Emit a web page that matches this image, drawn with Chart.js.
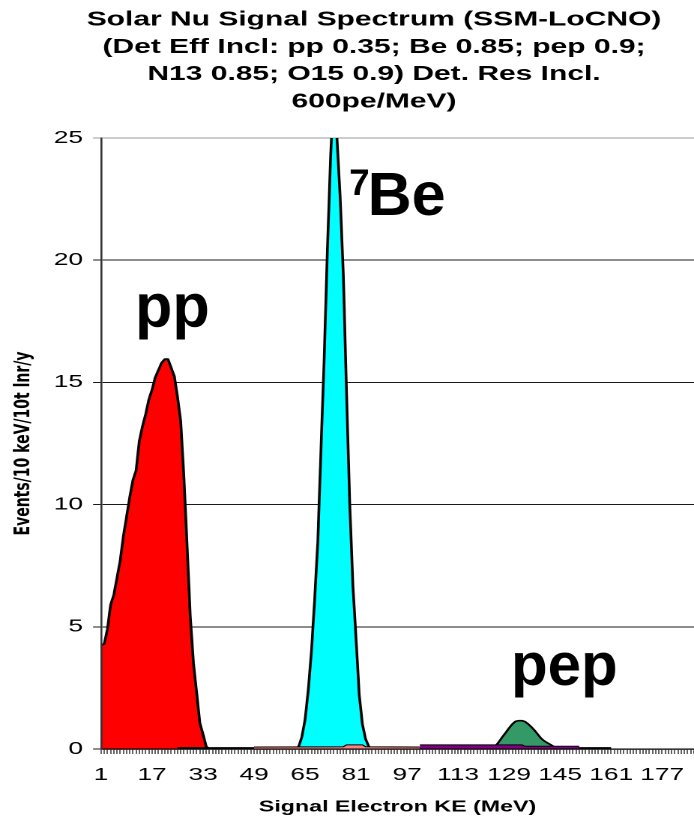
<!DOCTYPE html>
<html><head><meta charset="utf-8">
<script src="https://cdn.jsdelivr.net/npm/chart.js@4/dist/chart.umd.min.js"></script>
<style>html,body{margin:0;padding:0;background:#fff;overflow:hidden}</style>
</head><body>
<canvas id="c" width="463" height="820" style="width:694px;height:820px;display:block"></canvas>
<script>
// ---------- data ----------
const categories = Array.from({length: 187}, (_, i) => String(i + 1));
const xTickLabels = ['1','17','33','49','65','81','97','113','129','145','161','177'];
const yTickValues = [0, 5, 10, 15, 20, 25];

const titleLines = [
  'Solar Nu Signal Spectrum (SSM-LoCNO)',
  '(Det Eff Incl: pp 0.35; Be 0.85; pep 0.9;',
  'N13 0.85; O15 0.9) Det. Res Incl.',
  '600pe/MeV)'
];
const xTitle = 'Signal Electron KE (MeV)';
const yTitle = 'Events/10 keV/10t lnr/y';

// pp spectrum, starting at category 1
const ppFirst = 1;
const ppValues = [4.25, 4.3, 4.9, 5.9, 6.3, 7.0, 7.7, 8.7, 9.5, 10.3, 11.0, 11.4, 12.6, 13.2, 13.7,
  14.3, 14.7, 15.2, 15.5, 15.8, 15.95, 15.95, 15.6, 15.25, 14.4, 13.4, 11.1, 8.3, 5.4, 3.5,
  2.3, 1.06, 0.6, 0.1, 0];

// 7Be spectrum, starting at category 62
const beFirst = 62;
const beValues = [0, 0.1, 0.5, 1.2, 2.4, 4.0, 6.1, 8.5, 12.3, 16.0, 20.4, 24.2, 27.0, 25.0, 22.6,
  19.4, 14.6, 10.1, 6.7, 4.5, 2.2, 1.0, 0.4, 0.1, 0];

// pep spectrum, starting at category 123
const pepFirst = 123;
const pepValues = [0.05, 0.1, 0.16, 0.33, 0.51, 0.68, 0.86, 1.02, 1.13, 1.16, 1.16, 1.12, 1.02,
  0.9, 0.76, 0.6, 0.44, 0.33, 0.25, 0.18, 0.1, 0.05];

// low-level components: [category, value]
const darkLow = [[25, 0.05], [161, 0.05]];
const salmonLow = [[49, 0.08], [77, 0.09], [78, 0.17], [83, 0.17], [84, 0.09], [101, 0.08]];
const purpleLow = [[101, 0.17], [133, 0.17], [134, 0.11], [151, 0.11]];

// peak labels
const peakLabels = ['pp', '7', 'Be', 'pep'];

// ---------- drawing ----------
const S = 694 / 463;                 // horizontal stretch of the picture
const FAM = '"Liberation Sans", Arial, sans-serif';

function run(first, values) { return values.map((v, i) => ({x: categories[first - 1 + i], y: v})); }
function pairs(list) { return list.map(([c, v]) => ({x: String(c), y: v})); }

const labelPlacement = [
  {cat: 23.4, val: 17.27, size: 61, align: 'center'},
  {cat: 78.8, val: 22.67, size: 37, align: 'left'},
  {cat: 84.6, val: 21.85, size: 61, align: 'left'},
  {cat: 129.6, val: 2.62, size: 60, align: 'left'}
];

const textPlugin = {
  id: 'texts',
  afterDraw(chart) {
    const ctx = chart.ctx;
    ctx.save();
    ctx.fillStyle = '#000';
    ctx.textAlign = 'center';
    ctx.textBaseline = 'alphabetic';
    ctx.font = 'bold 20px ' + FAM;
    titleLines.forEach((t, i) => ctx.fillText(t, 374 / S, 25.5 + i * 27.3));
    const xs = chart.scales.x, ys = chart.scales.y;
    peakLabels.forEach((t, i) => {
      const p = labelPlacement[i];
      ctx.save();
      ctx.translate(xs.getPixelForValue(p.cat - 1), ys.getPixelForValue(p.val));
      ctx.scale(1 / S, 1);
      ctx.font = 'bold ' + p.size + 'px ' + FAM;
      ctx.textAlign = p.align;
      ctx.fillText(t, 0, 0);
      ctx.restore();
    });
    ctx.restore();
  }
};

const common = {borderColor: '#000', fill: 'origin', pointRadius: 0, tension: 0, borderJoinStyle: 'round'};

new Chart(document.getElementById('c'), {
  type: 'line',
  data: {
    labels: categories,
    datasets: [
      {...common, label: 'pp', data: run(ppFirst, ppValues), backgroundColor: '#FF0000', borderWidth: 1.8, order: 6},
      {...common, label: '7Be', data: run(beFirst, beValues), backgroundColor: '#00FFFF', borderWidth: 1.8, order: 5},
      {...common, label: 'pep', data: run(pepFirst, pepValues), backgroundColor: '#339966', borderWidth: 1.6, order: 4},
      {...common, label: 'low1', data: pairs(darkLow), backgroundColor: '#000000', borderWidth: 1.2, order: 3},
      {...common, label: 'low2', data: pairs(salmonLow), backgroundColor: '#FF8080', borderWidth: 1.0, order: 2},
      {...common, label: 'low3', data: pairs(purpleLow), backgroundColor: '#800080', borderWidth: 1.0, order: 1}
    ]
  },
  options: {
    responsive: false,
    animation: false,
    devicePixelRatio: 2,
    layout: {padding: {top: 138, left: 0, right: 0, bottom: 0}},
    plugins: {legend: {display: false}, tooltip: {enabled: false}, title: {display: false}},
    scales: {
      x: {
        type: 'category',
        offset: false,
        grid: {display: true, drawOnChartArea: false, drawTicks: true, tickLength: 5, color: '#222', lineWidth: 0.7},
        border: {display: true, color: '#000', width: 1.3, z: 1},
        ticks: {
          autoSkip: false, maxRotation: 0, minRotation: 0, padding: 10.8, color: '#000',
          font: {family: FAM, size: 17.5},
          callback: (v, i) => xTickLabels.includes(categories[i]) ? categories[i] : ''
        },
        title: {display: true, text: xTitle, color: '#000', font: {family: FAM, size: 15.5, weight: 'bold'}, padding: {top: 0, bottom: 3.5}},
        afterFit: s => { s.height = 71; s.paddingLeft = 0; s.paddingRight = 0; }
      },
      y: {
        min: 0, max: 25,
        afterBuildTicks: s => { s.ticks = yTickValues.map(v => ({value: v})); },
        grid: {
          color: c => (c.tick && c.tick.value === 25) ? '#9a9a9a' : '#1a1a1a',
          lineWidth: 1, drawTicks: true, tickLength: 5.3
        },
        border: {display: true, color: '#333', width: 1.3, z: 1},
        ticks: {padding: 6.7, color: '#000', font: {family: FAM, size: 17.5}},
        title: {display: true, text: yTitle, color: '#000', font: {family: '"DejaVu Sans", sans-serif', size: 14, weight: 'bold'}, padding: {top: 7.3, bottom: 0}},
        afterFit: s => { s.width = 67.4; }
      }
    }
  },
  plugins: [textPlugin]
});
</script>
</body></html>
